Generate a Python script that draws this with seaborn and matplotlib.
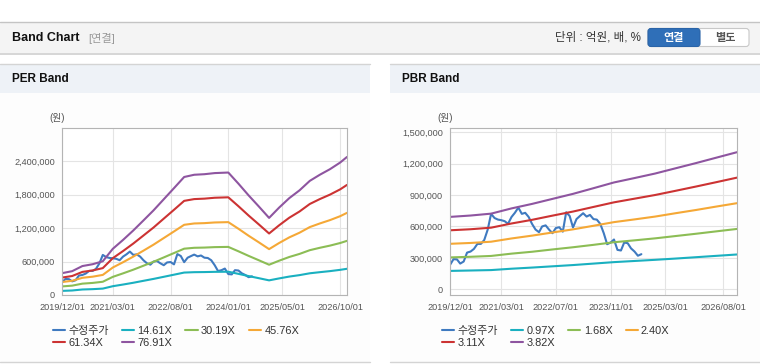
import pandas as pd
import matplotlib
matplotlib.use("Agg")
import matplotlib.pyplot as plt
import seaborn as sns
from matplotlib.patches import Rectangle, FancyBboxPatch
from matplotlib.ticker import FuncFormatter

W, H = 760, 364

# 수정주가 (monthly, 2019/12 ~ 2024/08)
price_dates = pd.date_range("2019-12-01", "2024-08-01", freq="MS")
price = [232000, 287000, 285000, 245000, 265000, 350000, 360000, 385000, 433000, 433000,
         470000, 570000, 720000, 680000, 665000, 660000, 650000, 625000, 690000, 730000,
         780000, 720000, 730000, 690000, 624000, 570000, 545000, 600000, 610000, 570000,
         535000, 585000, 592000, 550000, 735000, 700000, 590000, 670000, 700000, 726000,
         694000, 710000, 670000, 665000, 624000, 535000, 430000, 446000, 475000, 376000,
         370000, 446000, 440000, 390000, 360000, 320000, 335000]

# PER band
per_dates = pd.to_datetime([
    "2019-12-01", "2020-03-01", "2020-06-01", "2020-09-01", "2020-12-01", "2021-03-01",
    "2021-06-01", "2021-09-01", "2021-12-01", "2022-03-01", "2022-06-01", "2022-09-01",
    "2022-12-01", "2023-03-01", "2023-06-01", "2023-09-01", "2024-01-01", "2024-04-01",
    "2024-07-01", "2024-10-01", "2025-01-01", "2025-04-01", "2025-07-01", "2025-10-01",
    "2026-01-01", "2026-04-01", "2026-07-01", "2026-10-01", "2026-12-01"])
per_labels = ["14.61X", "30.19X", "45.76X", "61.34X", "76.91X"]
per_1461 = [74000, 81000, 99000, 105000, 115000, 158000, 188000, 220000, 255000, 289000,
            327000, 365000, 403000, 410000, 412000, 416000, 418000, 380000, 340000, 302000,
            263000, 298000, 331000, 357000, 390000, 410000, 429000, 452000, 471000]
per_3019 = [154000, 168000, 204000, 217000, 238000, 326000, 389000, 455000, 526000, 597000,
            675000, 754000, 832000, 848000, 852000, 860000, 864000, 785000, 703000, 624000,
            544000, 616000, 683000, 738000, 805000, 848000, 887000, 934000, 973000]
per_4576 = [233000, 255000, 309000, 329000, 361000, 494000, 589000, 690000, 797000, 904000,
            1023000, 1142000, 1261000, 1285000, 1291000, 1303000, 1309000, 1190000, 1065000,
            946000, 824000, 934000, 1035000, 1119000, 1220000, 1285000, 1345000, 1416000, 1476000]
per_6134 = [313000, 341000, 415000, 441000, 483000, 662000, 790000, 925000, 1069000, 1212000,
            1372000, 1531000, 1691000, 1723000, 1731000, 1747000, 1755000, 1595000, 1428000,
            1268000, 1105000, 1252000, 1388000, 1500000, 1635000, 1723000, 1803000, 1898000, 1978000]
per_7691 = [392000, 428000, 520000, 553000, 606000, 830000, 990000, 1160000, 1340000, 1520000,
            1720000, 1920000, 2120000, 2160000, 2170000, 2190000, 2200000, 2000000, 1790000,
            1590000, 1385000, 1570000, 1740000, 1880000, 2050000, 2160000, 2260000, 2380000, 2480000]
per_xticks = ["2019-12-01", "2021-03-01", "2022-08-01", "2024-01-01", "2025-05-01", "2026-10-01"]

# PBR band
pbr_dates = pd.to_datetime([
    "2019-12-01", "2020-06-01", "2020-12-01", "2021-06-01", "2021-12-01", "2022-06-01",
    "2022-12-01", "2023-06-01", "2023-12-01", "2024-06-01", "2024-12-01", "2025-06-01",
    "2025-12-01", "2026-06-01", "2026-12-01"])
pbr_labels = ["0.97X", "1.68X", "2.40X", "3.11X", "3.82X"]
pbr_097 = [175000, 179000, 183000, 196000, 207000, 219000, 231000, 245000, 259000, 270000,
           281000, 293000, 306000, 319000, 332000]
pbr_168 = [304000, 310000, 318000, 340000, 358000, 380000, 401000, 424000, 449000, 467000,
           486000, 508000, 530000, 553000, 576000]
pbr_240 = [434000, 442000, 454000, 485000, 512000, 542000, 572000, 606000, 641000, 667000,
           694000, 726000, 757000, 790000, 822000]
pbr_311 = [563000, 573000, 588000, 628000, 663000, 703000, 742000, 786000, 830000, 865000,
           900000, 940000, 981000, 1023000, 1066000]
pbr_382 = [691000, 704000, 722000, 772000, 815000, 863000, 911000, 965000, 1020000, 1062000,
           1105000, 1155000, 1205000, 1257000, 1309000]
pbr_xticks = ["2019-12-01", "2021-03-01", "2022-07-01", "2023-11-01", "2025-03-01", "2026-08-01"]

price_color = "#3f7ac0"
band_colors = ["#1ab0c0", "#8cbd55", "#f5a836", "#cc3333", "#8e55a0"]

sns.set_theme(style="white")
plt.rcParams["font.family"] = ["Liberation Sans", "Noto Sans CJK KR", "DejaVu Sans"]


def fx(x):
    return x / W


def fy(y):
    return 1 - y / H


def draw_panel(fig, rect, band_dates, bands, labels, ylim, yticks, xticks, legend_xy):
    ax = fig.add_axes(rect)
    lines = []
    sns.lineplot(x=price_dates, y=price, color=price_color, linewidth=1.5, ax=ax)
    lines.append(ax.lines[-1])
    for vals, col in zip(bands, band_colors):
        sns.lineplot(x=band_dates, y=vals, color=col, linewidth=1.5, ax=ax)
        lines.append(ax.lines[-1])

    ax.set_xlim(pd.Timestamp("2019-12-01"), pd.Timestamp("2026-12-01"))
    ax.set_ylim(*ylim)
    ax.set_yticks(yticks)
    ax.yaxis.set_major_formatter(FuncFormatter(lambda v, p: f"{int(v):,}"))
    xt = pd.to_datetime(xticks)
    ax.set_xticks(xt)
    ax.set_xticklabels([d.strftime("%Y/%m/%d") for d in xt])
    ax.grid(True, color="#e4e4e4", linewidth=0.8)
    ax.set_axisbelow(True)
    for s in ax.spines.values():
        s.set_color("#b4b4b4")
        s.set_linewidth(0.8)
    ax.tick_params(length=0, labelsize=6.6, labelcolor="#555555")
    ax.tick_params(axis="y", pad=5)
    ax.tick_params(axis="x", pad=6)
    ax.set_xlabel("")
    ax.set_ylabel("")

    # column-major order so rows read like the reference
    order = [0, 4, 1, 5, 2, 3]
    names = ["수정주가"] + labels
    leg = ax.legend([lines[i] for i in order], [names[i] for i in order], ncol=4,
                    loc="upper left", bbox_to_anchor=(fx(legend_xy[0]), fy(legend_xy[1])),
                    bbox_transform=fig.transFigure, frameon=False, fontsize=7.9,
                    handlelength=1.1, handletextpad=0.3, columnspacing=1.2,
                    labelspacing=0.15, borderpad=0, borderaxespad=0)
    for t in leg.get_texts():
        t.set_color("#333333")
    return ax


fig = plt.figure(figsize=(W / 100, H / 100), dpi=100)
fig.patch.set_facecolor("white")

# page furniture in pixel coordinates
bg = fig.add_axes([0, 0, 1, 1], zorder=-5)
bg.set_xlim(0, W)
bg.set_ylim(H, 0)
bg.axis("off")
bg.add_patch(Rectangle((0, 22), W, 31, facecolor="#f4f4f4", edgecolor="none"))
bg.plot([0, W], [22, 22], color="#c4c4c4", lw=1)
bg.plot([0, W], [53.5, 53.5], color="#d0d0d0", lw=1.2)
bg.text(12, 38, "Band Chart", fontsize=9, fontweight="bold", color="#111111", va="center")
bg.text(88, 38, "[연결]", fontsize=8, color="#999999", va="center")
bg.text(641, 38, "단위 : 억원, 배, %", fontsize=8.3, color="#333333", va="center", ha="right")
bg.add_patch(FancyBboxPatch((648, 28.5), 101, 18, boxstyle="round,pad=0,rounding_size=3",
                            facecolor="white", edgecolor="#c8c8c8", lw=0.8))
bg.add_patch(FancyBboxPatch((648, 28.5), 52, 18, boxstyle="round,pad=0,rounding_size=3",
                            facecolor="#2f6fb8", edgecolor="#2a64a8", lw=0.8))
bg.text(674, 38, "연결", fontsize=8, fontweight="bold", color="white", va="center", ha="center")
bg.text(725, 38, "별도", fontsize=8, fontweight="bold", color="#555555", va="center", ha="center")

for x0, x1, title in [(0, 370, "PER Band"), (390, W, "PBR Band")]:
    bg.add_patch(Rectangle((x0, 64), x1 - x0, 29, facecolor="#eef2f7", edgecolor="none"))
    bg.add_patch(Rectangle((x0, 93), x1 - x0, 269, facecolor="#fdfdfd", edgecolor="none"))
    bg.plot([x0, x1], [64, 64], color="#d4d4d4", lw=1)
    bg.plot([x0, x1], [362, 362], color="#d4d4d4", lw=1)
    bg.text(x0 + 12, 79, title, fontsize=8.5, fontweight="bold", color="#111111", va="center")

bg.text(57, 118, "(원)", fontsize=7, color="#555555", va="center", ha="center")
bg.text(445, 118, "(원)", fontsize=7, color="#555555", va="center", ha="center")

draw_panel(fig, [fx(62), fy(295), fx(347) - fx(62), fy(128) - fy(295)],
           per_dates, [per_1461, per_3019, per_4576, per_6134, per_7691], per_labels,
           (0, 3000000), [0, 600000, 1200000, 1800000, 2400000], per_xticks, (53, 326))

draw_panel(fig, [fx(450), fy(295), fx(737) - fx(450), fy(128) - fy(295)],
           pbr_dates, [pbr_097, pbr_168, pbr_240, pbr_311, pbr_382], pbr_labels,
           (-55000, 1540000), [0, 300000, 600000, 900000, 1200000, 1500000], pbr_xticks, (442, 326))

fig.savefig("out.png", dpi=100)
